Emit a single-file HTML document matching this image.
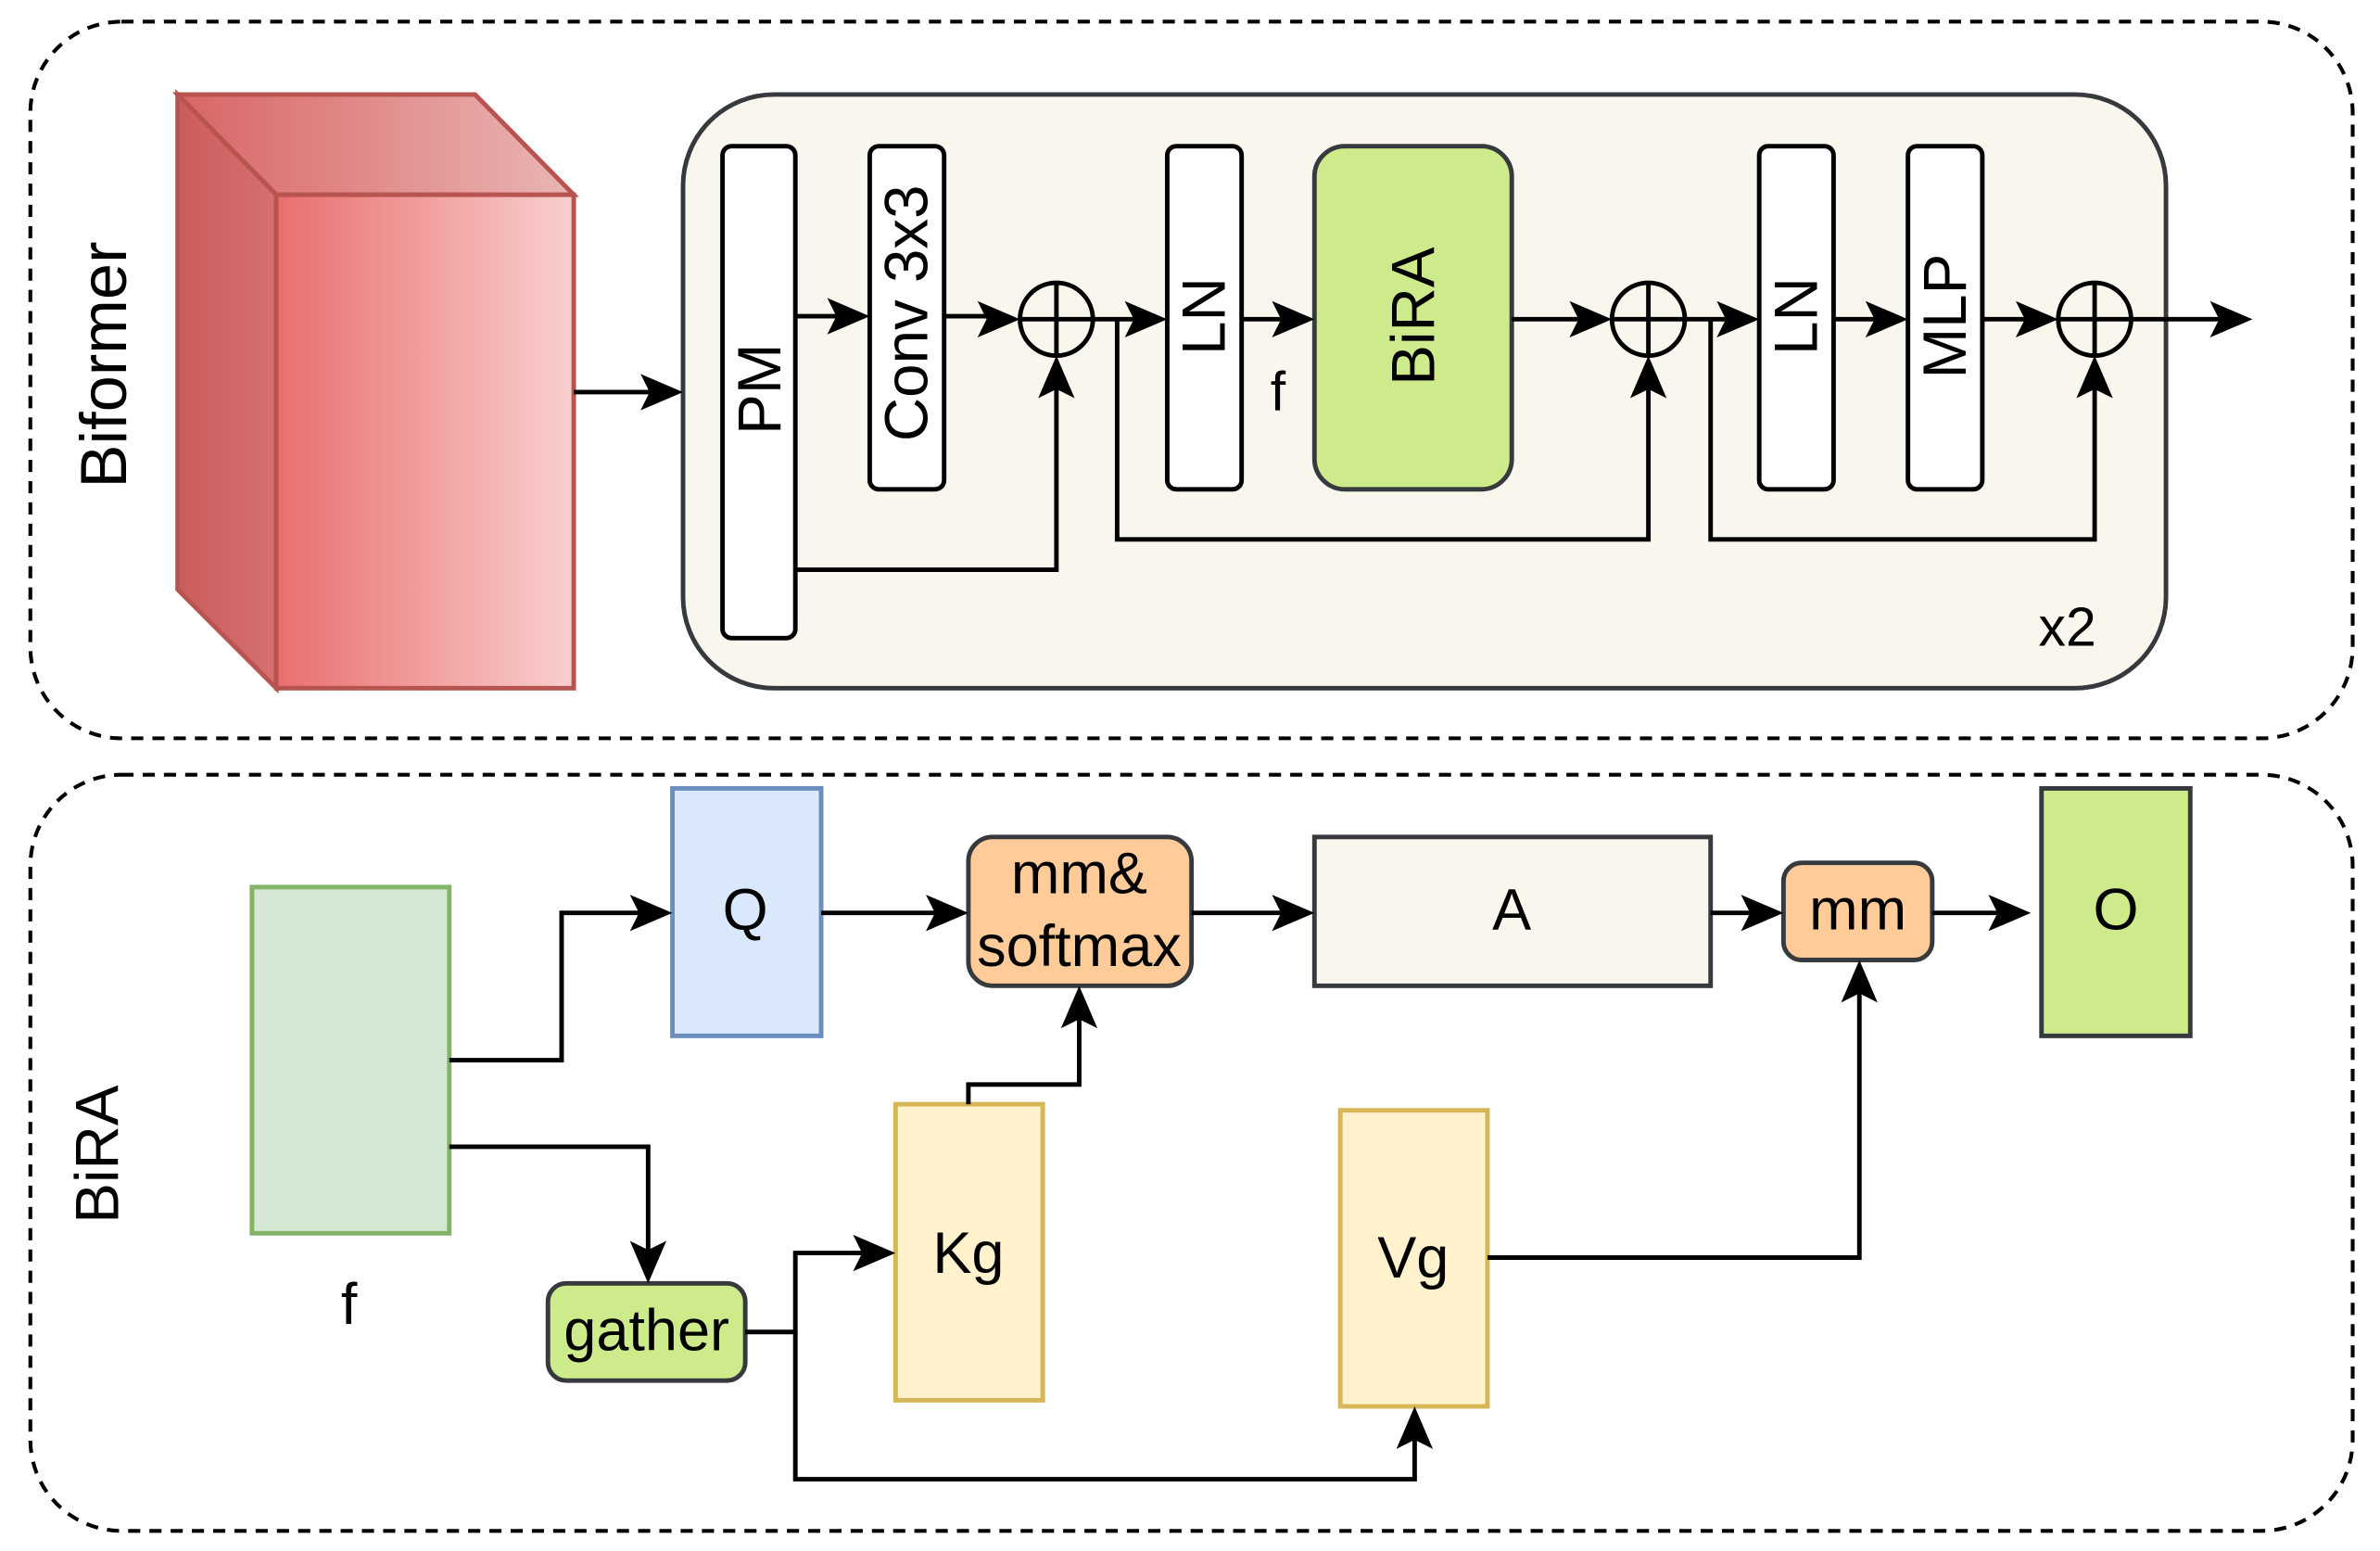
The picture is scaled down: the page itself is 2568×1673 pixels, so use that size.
<!DOCTYPE html>
<html><head><meta charset="utf-8"><style>
html,body{margin:0;padding:0;background:#fff;}
svg{display:block;}
text{font-family:"Liberation Sans",Arial,sans-serif;fill:#000;}
</style></head><body>
<svg width="2568" height="1673" viewBox="0 0 1568 1021" xmlns="http://www.w3.org/2000/svg">
<defs>
<linearGradient id="gf" x1="0" y1="0" x2="1" y2="0"><stop offset="0" stop-color="#ea6e6e"/><stop offset="1" stop-color="#f8d0cf"/></linearGradient>
<linearGradient id="gt" x1="0" y1="0" x2="1" y2="0"><stop offset="0" stop-color="#d96565"/><stop offset="1" stop-color="#e9b6b5"/></linearGradient>
<linearGradient id="gl" x1="0" y1="0" x2="1" y2="0"><stop offset="0" stop-color="#cc5c5c"/><stop offset="1" stop-color="#d57070"/></linearGradient>
</defs>
<g fill="none" stroke="#000" stroke-width="2.5" stroke-dasharray="8,6">
<rect x="20" y="14" width="1530" height="472" rx="60"/>
<rect x="20" y="510" width="1530" height="498" rx="60"/>
</g>
<text transform="translate(83,240) rotate(-90)" font-size="43" text-anchor="middle">Biformer</text>
<text transform="translate(78,760) rotate(-90)" font-size="40" text-anchor="middle">BiRA</text>
<g stroke="#b85450" stroke-width="3">
<polygon points="117,62 313,62 378,128 182,128" fill="url(#gt)"/>
<polygon points="117,62 182,128 182,453 117,388" fill="url(#gl)"/>
<rect x="182" y="128" width="196" height="325" fill="url(#gf)"/>
</g>
<rect x="450" y="62" width="977" height="391" rx="60" fill="#f9f7ed" stroke="#36393d" stroke-width="3"/>
<g fill="#fff" stroke="#000" stroke-width="3">
<rect x="476" y="96" width="48" height="324" rx="6"/>
<rect x="573" y="96" width="49" height="226" rx="6"/>
<rect x="769" y="96" width="49" height="226" rx="6"/>
<rect x="1159" y="96" width="49" height="226" rx="6"/>
<rect x="1257" y="96" width="49" height="226" rx="6"/>
</g>
<rect x="866" y="96" width="130" height="226" rx="20" fill="#cdeb8b" stroke="#36393d" stroke-width="3"/>
<g font-size="40" text-anchor="middle">
<text transform="translate(514,256) rotate(-90)">PM</text>
<text transform="translate(611,206) rotate(-90)">Conv 3x3</text>
<text transform="translate(807,208) rotate(-90)">LN</text>
<text transform="translate(945,208) rotate(-90)">BiRA</text>
<text transform="translate(1197,208) rotate(-90)">LN</text>
<text transform="translate(1295,208) rotate(-90)">MLP</text>
</g>
<g font-size="36" text-anchor="middle">
<text x="842" y="270">f</text>
<text x="1362" y="425">x2</text>
</g>
<g fill="none" stroke="#000" stroke-width="3">
<circle cx="696" cy="210" r="24"/><line x1="672" y1="210" x2="720" y2="210"/><line x1="696" y1="186" x2="696" y2="234"/>
<circle cx="1086" cy="210" r="24"/><line x1="1062" y1="210" x2="1110" y2="210"/><line x1="1086" y1="186" x2="1086" y2="234"/>
<circle cx="1380" cy="210" r="24"/><line x1="1356" y1="210" x2="1404" y2="210"/><line x1="1380" y1="186" x2="1380" y2="234"/>
<polyline points="378,258 440,258"/>
<polyline points="524,208 563,208"/>
<polyline points="622,208 662,208"/>
<polyline points="720,210 759,210"/>
<polyline points="818,210 856,210"/>
<polyline points="996,210 1052,210"/>
<polyline points="1110,210 1149,210"/>
<polyline points="1208,210 1247,210"/>
<polyline points="1306,210 1346,210"/>
<polyline points="1404,210 1474,210"/>
<polyline points="524,375 696,375 696,244"/>
<polyline points="736,210 736,355 1086,355 1086,244"/>
<polyline points="1127,210 1127,355 1380,355 1380,244"/>
</g>
<g fill="#000">
<polygon points="450,258 422,246 428,258 422,270"/>
<polygon points="573,208 545,196 551,208 545,220"/>
<polygon points="672,210 644,198 650,210 644,222"/>
<polygon points="769,210 741,198 747,210 741,222"/>
<polygon points="866,210 838,198 844,210 838,222"/>
<polygon points="1062,210 1034,198 1040,210 1034,222"/>
<polygon points="1159,210 1131,198 1137,210 1131,222"/>
<polygon points="1257,210 1229,198 1235,210 1229,222"/>
<polygon points="1356,210 1328,198 1334,210 1328,222"/>
<polygon points="1484,210 1456,198 1462,210 1456,222"/>
<polygon points="696,234 684,262 696,256 708,262"/>
<polygon points="1086,234 1074,262 1086,256 1098,262"/>
<polygon points="1380,234 1368,262 1380,256 1392,262"/>
</g>
<rect x="166" y="584" width="130" height="228" fill="#d5e8d4" stroke="#82b366" stroke-width="3"/>
<rect x="443" y="519" width="98" height="163" fill="#dae8fc" stroke="#6c8ebf" stroke-width="3"/>
<rect x="638" y="551" width="147" height="98" rx="16" fill="#ffcc99" stroke="#36393d" stroke-width="3"/>
<rect x="866" y="551" width="261" height="98" fill="#f9f7ed" stroke="#36393d" stroke-width="3"/>
<rect x="1175" y="568" width="98" height="64" rx="12" fill="#ffcc99" stroke="#36393d" stroke-width="3"/>
<rect x="1345" y="519" width="98" height="163" fill="#cdeb8b" stroke="#36393d" stroke-width="3"/>
<rect x="590" y="727" width="97" height="195" fill="#fff2cc" stroke="#d6b656" stroke-width="3"/>
<rect x="883" y="731" width="97" height="195" fill="#fff2cc" stroke="#d6b656" stroke-width="3"/>
<rect x="361" y="845" width="130" height="64" rx="12" fill="#cdeb8b" stroke="#36393d" stroke-width="3"/>
<g font-size="38.5" text-anchor="middle">
<text x="491" y="612">Q</text>
<text x="711" y="588">mm&amp;</text>
<text x="711" y="636">softmax</text>
<text x="996" y="612">A</text>
<text x="1224" y="612">mm</text>
<text x="1394" y="612">O</text>
<text x="638" y="838">Kg</text>
<text x="931" y="841">Vg</text>
<text x="426" y="889">gather</text>
<text x="230" y="872">f</text>
</g>
<g fill="none" stroke="#000" stroke-width="3">
<polyline points="296,698 370,698 370,601 433,601"/>
<polyline points="296,755 427,755 427,835"/>
<polyline points="491,877 524,877 524,825 580,825"/>
<polyline points="524,877 524,974 932,974 932,936"/>
<polyline points="638,727 638,714 711,714 711,659"/>
<polyline points="541,601 628,601"/>
<polyline points="785,601 856,601"/>
<polyline points="1127,601 1165,601"/>
<polyline points="1273,601 1328,601"/>
<polyline points="980,828 1225,828 1225,642"/>
</g>
<g fill="#000">
<polygon points="443,601 415,589 421,601 415,613"/>
<polygon points="427,845 415,817 427,823 439,817"/>
<polygon points="590,825 562,813 568,825 562,837"/>
<polygon points="932,926 920,954 932,948 944,954"/>
<polygon points="711,649 699,677 711,671 723,677"/>
<polygon points="638,601 610,589 616,601 610,613"/>
<polygon points="866,601 838,589 844,601 838,613"/>
<polygon points="1175,601 1147,589 1153,601 1147,613"/>
<polygon points="1338,601 1310,589 1316,601 1310,613"/>
<polygon points="1225,632 1213,660 1225,654 1237,660"/>
</g>
</svg>
</body></html>
